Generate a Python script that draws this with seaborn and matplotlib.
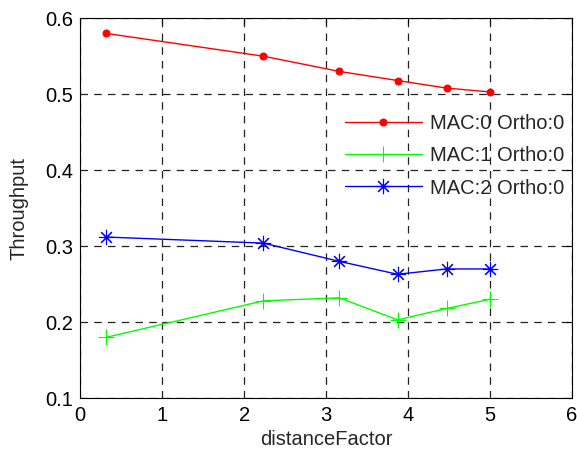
import matplotlib
matplotlib.use("Agg")
import matplotlib.pyplot as plt
import seaborn as sns
import pandas as pd

distance = [0.316, 2.236, 3.162, 3.873, 4.472, 5.0]
mac0 = [0.580, 0.550, 0.530, 0.518, 0.508, 0.503]
mac1 = [0.180, 0.228, 0.232, 0.203, 0.218, 0.230]
mac2 = [0.312, 0.304, 0.280, 0.263, 0.270, 0.270]
labels = ["MAC:0 Ortho:0", "MAC:1 Ortho:0", "MAC:2 Ortho:0"]
colors = ["#ff0000", "#00ff00", "#0000ff"]
markers = ["o", "+", (8, 2, 0)]

sns.set_style("white")
plt.rcParams["font.family"] = ["Liberation Sans", "DejaVu Sans"]

fig = plt.figure(figsize=(5.77, 4.55), dpi=100)
ax = fig.add_axes([0.139, 0.125, 0.852, 0.835])

for vals, lab, c, m in zip([mac0, mac1, mac2], labels, colors, markers):
    df = pd.DataFrame({"x": distance, "y": vals})
    kw = dict(markersize=5) if m == "o" else dict(markersize=11, markeredgewidth=0.8)
    sns.lineplot(data=df, x="x", y="y", ax=ax, color=c, marker=m, label=lab,
                 linewidth=1, markeredgecolor=c, **kw)

fs = 14.5
ax.set_xlim(0, 6)
ax.set_ylim(0.1, 0.6)
ax.set_xticks(range(0, 7))
ax.set_yticks([0.1, 0.2, 0.3, 0.4, 0.5, 0.6])
ax.set_yticklabels(["0.1", "0.2", "0.3", "0.4", "0.5", "0.6"])
ax.grid(True, color="#222222", linestyle=(0, (6, 5)), linewidth=0.9)
ax.set_xlabel("distanceFactor", fontsize=fs, labelpad=3)
ax.set_ylabel("Throughput", fontsize=fs, labelpad=12)
ax.tick_params(direction="in", labelsize=fs, top=True, right=True, length=4, width=0.8, colors="black")
ax.tick_params(axis="x", pad=6)
ax.tick_params(axis="y", pad=5)
for s in ax.spines.values():
    s.set_color("black")
    s.set_linewidth(0.8)

ax.legend(loc="upper left", bbox_to_anchor=(0.539, 0.748), frameon=False, fontsize=fs,
          handlelength=3.8, labelspacing=0.66, borderaxespad=0, borderpad=0, handletextpad=0.4)
fig.savefig("out.png", dpi=100)
